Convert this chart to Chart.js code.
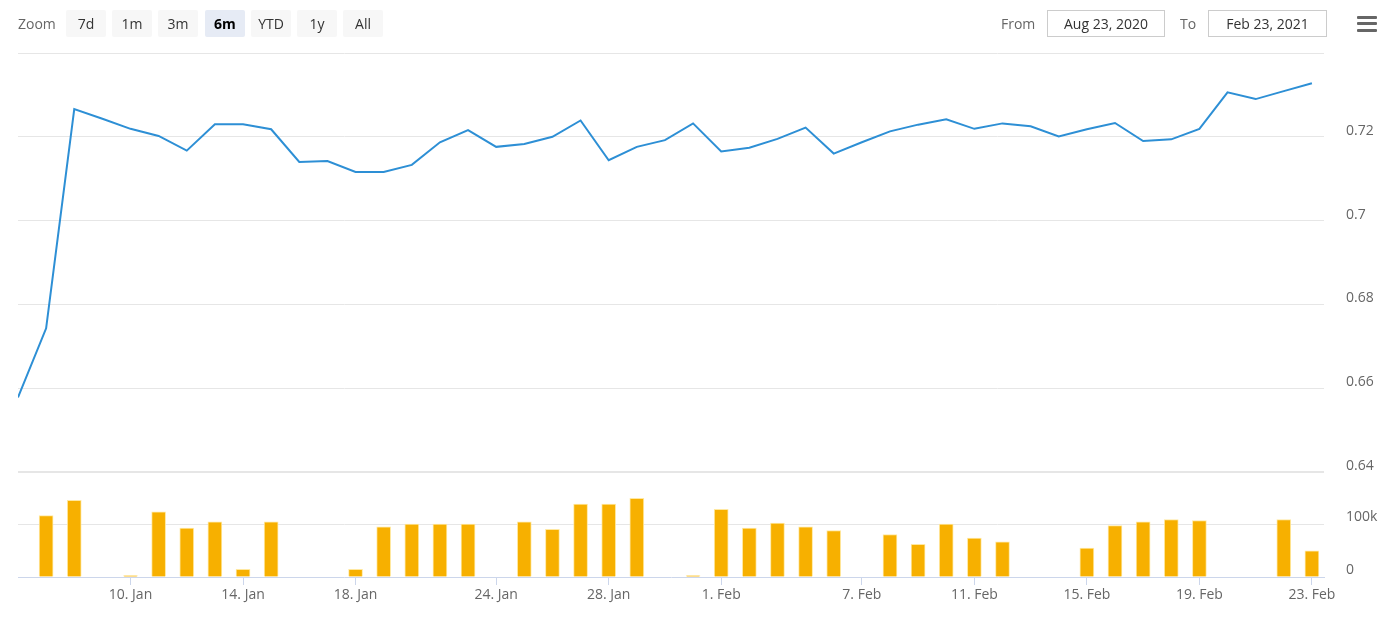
<!DOCTYPE html>
<html>
<head>
<meta charset="utf-8">
<script src="https://cdn.jsdelivr.net/npm/chart.js@4"></script>
<style>
  html, body { margin: 0; padding: 0; background: #fff; }
  #wrap { position: relative; width: 1393px; height: 618px; overflow: hidden; font-family: "Open Sans", sans-serif; }
  #c { position: absolute; left: 0; top: 0; }
  .lbl { position: absolute; top: 10px; height: 27px; line-height: 27px; font-size: 14px; color: #666; }
  .btn { position: absolute; top: 10px; width: 40px; height: 27px; line-height: 27px; text-align: center; font-size: 14px; color: #333; background: #f7f7f7; border-radius: 2px; }
  .btn.sel { background: #e6ebf5; color: #000; font-weight: bold; }
  .inp { position: absolute; top: 10px; height: 25px; line-height: 25px; border: 1px solid #ccc; text-align: center; font-size: 14px; color: #333; background: #fff; }
  .hb { position: absolute; left: 1357px; width: 20px; height: 3px; background: #666; border-radius: 1px; }
</style>
</head>
<body>
<div id="wrap">
  <canvas id="c" width="1393" height="618"></canvas>
  <div class="lbl" style="left:18px;">Zoom</div>
  <div class="btn" style="left:66px;">7d</div>
  <div class="btn" style="left:112px;">1m</div>
  <div class="btn" style="left:158px;">3m</div>
  <div class="btn sel" style="left:205px;">6m</div>
  <div class="btn" style="left:251px;">YTD</div>
  <div class="btn" style="left:297px;">1y</div>
  <div class="btn" style="left:343px;">All</div>
  <div class="lbl" style="left:1001px;">From</div>
  <div class="inp" style="left:1047px; width:116px;">Aug 23, 2020</div>
  <div class="lbl" style="left:1180px;">To</div>
  <div class="inp" style="left:1208px; width:117px;">Feb 23, 2021</div>
  <div class="hb" style="top:16px;"></div>
  <div class="hb" style="top:22px;"></div>
  <div class="hb" style="top:29px;"></div>
</div>
<script>
const dates = ['6. Jan','7. Jan','8. Jan','9. Jan','10. Jan','11. Jan','12. Jan','13. Jan','14. Jan','15. Jan',
  '16. Jan','17. Jan','18. Jan','19. Jan','20. Jan','21. Jan','22. Jan','24. Jan','25. Jan','26. Jan',
  '27. Jan','28. Jan','29. Jan','30. Jan','31. Jan','1. Feb','2. Feb','3. Feb','4. Feb','5. Feb',
  '7. Feb','8. Feb','9. Feb','10. Feb','11. Feb','12. Feb','13. Feb','14. Feb','15. Feb','16. Feb',
  '17. Feb','18. Feb','19. Feb','20. Feb','21. Feb','22. Feb','23. Feb'];
const tickLabels = ['10. Jan','14. Jan','18. Jan','24. Jan','28. Jan','1. Feb','7. Feb','11. Feb','15. Feb','19. Feb','23. Feb'];
const closeValues = [0.6578,0.6743,0.7266,0.7243,0.7219,0.7202,0.7167,0.7230,0.7230,0.7218,
  0.7140,0.7142,0.7116,0.7116,0.7133,0.7187,0.7216,0.7176,0.7183,0.7200,
  0.7239,0.7144,0.7176,0.7192,0.7232,0.7165,0.7174,0.7195,0.7222,0.7160,
  0.7187,0.7213,0.7229,0.7242,0.7219,0.7232,0.7225,0.7201,0.7218,0.7233,
  0.7190,0.7194,0.7219,0.7306,0.7290,0.7309,0.7328];
const volumeValues = [null,117000,146000,null,2500,124000,93000,105000,14600,105000,
  null,null,14600,95500,100600,100600,100600,null,105000,91000,
  139000,139000,150000,null,2500,129000,93000,102500,95500,88500,
  null,81000,62000,100600,74000,67000,null,null,55000,98000,
  105000,109500,107600,null,null,109500,50000];
const priceTicks = [0.64,0.66,0.68,0.70,0.72,0.74];
const volumeTicks = [0,100000,200000];
const volumeTickLabels = ['0','100k',''];

const tickIdx = tickLabels.map(l => dates.indexOf(l));
const font = { family: '"Open Sans", sans-serif', size: 14 };

new Chart(document.getElementById('c'), {
  type: 'line',
  data: {
    datasets: [
      {
        type: 'line',
        data: closeValues.map((v, i) => ({ x: i, y: v })),
        borderColor: '#2d8fd5',
        borderWidth: 2,
        pointRadius: 0,
        tension: 0,
        fill: false,
        xAxisID: 'x',
        yAxisID: 'yPrice'
      },
      {
        type: 'bar',
        data: volumeValues.map((v, i) => ({ x: i, y: v })),
        backgroundColor: '#f7b000',
        borderColor: 'rgba(255,230,150,0.9)',
        borderWidth: 1,
        barThickness: 14,
        xAxisID: 'x',
        yAxisID: 'yVol'
      }
    ]
  },
  options: {
    responsive: false,
    animation: false,
    layout: { padding: { left: 18, top: 53, right: 0, bottom: 0 } },
    plugins: { legend: { display: false }, tooltip: { enabled: false } },
    scales: {
      x: {
        type: 'linear',
        position: 'bottom',
        offset: false,
        min: 0,
        max: 46.43,
        afterBuildTicks: s => { s.ticks = tickIdx.map(v => ({ value: v })); },
        afterFit: s => { s.height = 41; },
        ticks: { autoSkip: false, maxRotation: 0, color: '#666', font, padding: 2,
          callback: v => dates[v] },
        grid: { offset: false, drawOnChartArea: false, tickLength: 8, color: '#ccd6eb' },
        border: { color: '#ccd6eb' }
      },
      yPrice: {
        type: 'linear',
        position: 'right',
        stack: 'panes',
        stackWeight: 419,
        min: 0.64,
        max: 0.74,
        afterBuildTicks: s => { s.ticks = priceTicks.map(v => ({ value: v })); },
        afterFit: s => { s.width = 69; },
        ticks: { color: '#666', font, padding: 22, labelOffset: -6,
          callback: (v, i) => i === priceTicks.length - 1 ? '' : String(+(+v).toFixed(2)) },
        grid: { drawTicks: false, color: '#e6e6e6', lineWidth: ctx => (ctx.tick && ctx.tick.value === 0.64) ? 2 : 1 },
        border: { display: false }
      },
      yVol: {
        type: 'linear',
        position: 'right',
        stack: 'panes',
        stackWeight: 105,
        min: 0,
        max: 200000,
        afterBuildTicks: s => { s.ticks = volumeTicks.map(v => ({ value: v })); },
        afterFit: s => { s.width = 69; },
        ticks: { color: '#666', font, padding: 22, labelOffset: -7,
          callback: (v, i) => volumeTickLabels[i] },
        grid: { drawTicks: false, color: ctx => (ctx.tick && ctx.tick.value === 100000) ? '#e6e6e6' : 'rgba(0,0,0,0)' },
        border: { display: false }
      }
    }
  }
});
</script>
</body>
</html>
